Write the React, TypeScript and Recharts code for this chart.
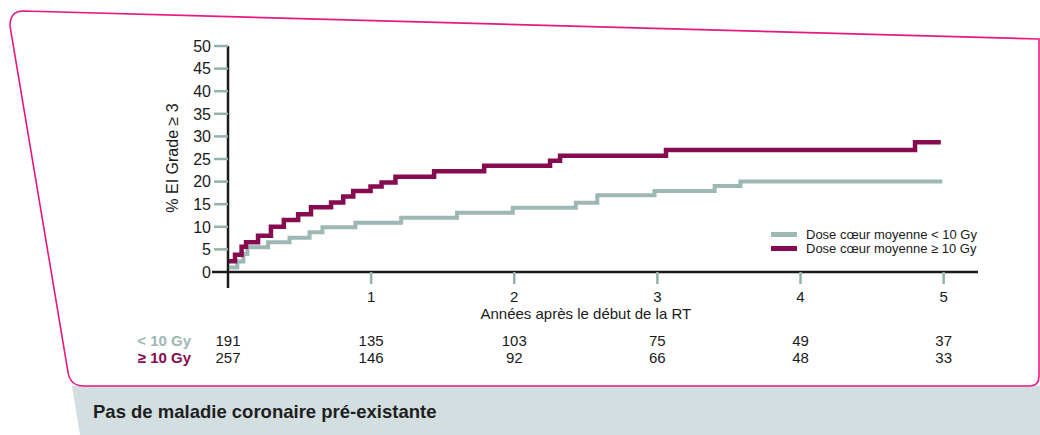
import React from "react";
import { LineChart, Line, XAxis, YAxis, Label } from "recharts";

// Kaplan-Meier style cumulative incidence
const lowTimes = [0.01, 0.065, 0.107, 0.135, 0.28, 0.43, 0.57, 0.66, 0.89, 1.21, 1.6, 1.99, 2.43, 2.58, 2.98, 3.4, 3.58, 4.99];
const lowValues = [1.0, 2.3, 4.0, 5.5, 6.6, 7.6, 8.8, 9.9, 10.9, 12.0, 13.1, 14.2, 15.3, 17.0, 17.9, 19.0, 20.0, 20.0];

const highTimes = [0, 0.049, 0.095, 0.126, 0.21, 0.3, 0.39, 0.49, 0.58, 0.72, 0.805, 0.875, 0.996, 1.073, 1.17, 1.44, 1.79, 2.25, 2.32, 3.06, 4.8, 4.98];
const highValues = [2.4, 3.8, 5.6, 6.6, 8.0, 10.0, 11.5, 12.8, 14.3, 15.4, 16.7, 17.9, 18.9, 19.8, 21.1, 22.3, 23.5, 24.6, 25.7, 27.0, 28.7, 28.7];

const xTicks = [0, 1, 2, 3, 4, 5];
const yTicks = [0, 5, 10, 15, 20, 25, 30, 35, 40, 45, 50];

// patients at risk
const riskLow = [191, 135, 103, 75, 49, 37];
const riskHigh = [257, 146, 92, 66, 48, 33];
const riskLabels = ["< 10 Gy", "≥ 10 Gy"];

const seriesNames = ["Dose cœur moyenne < 10 Gy", "Dose cœur moyenne ≥ 10 Gy"];
const xTitle = "Années après le début de la RT";
const yTitle = "% EI Grade ≥ 3";
const panelTitle = "Pas de maladie coronaire pré-existante";

const TEAL = "#9db8b4";
const TICK = "#93b1ad";
const RED = "#870b4f";
const PINK = "#e8187f";
const FONT = "'Liberation Sans', Arial, Helvetica, sans-serif";

const lowData = lowTimes.map((t, i) => ({ t, v: lowValues[i] }));
const highData = highTimes.map((t, i) => ({ t, v: highValues[i] }));
const seriesColors = [TEAL, RED];

function YTick(props: any) {
  const { x, y, payload } = props;
  const zero = payload.value === 0;
  return (
    <g>
      <line
        x1={x - (zero ? 16 : 14)}
        x2={x}
        y1={y}
        y2={y}
        stroke={zero ? "#1a1a1a" : TICK}
        strokeWidth={2.5}
      />
      <text x={x - 17} y={y} dy="0.36em" textAnchor="end" fontSize={16} fill="#1a1a1a" fontFamily={FONT}>
        {payload.value}
      </text>
    </g>
  );
}

function XTick(props: any) {
  const { x, y, payload, index } = props;
  const zero = payload.value === 0;
  return (
    <g fontFamily={FONT} fontSize={15} fill="#1a1a1a">
      <line
        x1={x}
        x2={x}
        y1={y}
        y2={y + (zero ? 16 : 12)}
        stroke={zero ? "#1a1a1a" : TICK}
        strokeWidth={2.5}
      />
      {!zero && (
        <text x={x} y={y + 29.5} textAnchor="middle">
          {payload.value}
        </text>
      )}
      <text x={x} y={y + 73.5} textAnchor="middle">
        {riskLow[index]}
      </text>
      <text x={x} y={y + 90.5} textAnchor="middle">
        {riskHigh[index]}
      </text>
      {zero && (
        <>
          <text x={x - 37} y={y + 73.5} textAnchor="end" fontWeight="bold" fill={TEAL}>
            {riskLabels[0]}
          </text>
          <text x={x - 37} y={y + 90.5} textAnchor="end" fontWeight="bold" fill={RED}>
            {riskLabels[1]}
          </text>
        </>
      )}
    </g>
  );
}

export default function App() {
  return (
    <div style={{ position: "absolute", left: 0, top: 0, width: 1040, height: 435, background: "#fff", overflow: "hidden" }}>
      <svg width={1040} height={435} style={{ position: "absolute", left: 0, top: 0 }}>
        <path d="M72 386 L1040 386 L1040 435 L80 435 Z" fill="#d2dedf" />
        <path
          d="M1039 39 L23 11 Q10 11 10 26 L68 372 Q70 386 84 386 L1030 386 Q1039 386 1039 376 Z"
          fill="none"
          stroke={PINK}
          strokeWidth={1.6}
        />
        <text x={93} y={418} fontFamily={FONT} fontSize={18.5} fontWeight="bold" fill="#1f1f1f">
          {panelTitle}
        </text>
      </svg>
      <div style={{ position: "absolute", left: 0, top: 0 }}>
        <LineChart width={1040} height={435} margin={{ top: 46, right: 62, left: 0, bottom: 63 }}>
          <XAxis
            type="number"
            dataKey="t"
            domain={[0, 5.24]}
            ticks={xTicks}
            allowDataOverflow
            height={100}
            tickSize={0}
            tickMargin={0}
            tickLine={false}
            axisLine={{ stroke: "#1a1a1a", strokeWidth: 2.5 }}
            tick={<XTick />}
            interval={0}
          >
            <Label
              content={(p: any) => {
                const vb = p.viewBox;
                return (
                  <text
                    x={vb.x + vb.width * (2.5 / 5.24)}
                    y={vb.y + 47}
                    textAnchor="middle"
                    fontSize={15}
                    fontFamily={FONT}
                    fill="#1a1a1a"
                  >
                    {xTitle}
                  </text>
                );
              }}
            />
          </XAxis>
          <YAxis
            type="number"
            domain={[0, 50]}
            ticks={yTicks}
            width={228}
            tickSize={0}
            tickMargin={0}
            tickLine={false}
            axisLine={{ stroke: "#1a1a1a", strokeWidth: 2.5 }}
            tick={<YTick />}
            interval={0}
          >
            <Label
              content={(p: any) => {
                const vb = p.viewBox;
                const cx = vb.x + vb.width - 56;
                const cy = vb.y + vb.height / 2 - 1;
                return (
                  <text
                    x={cx}
                    y={cy}
                    transform={`rotate(-90 ${cx} ${cy})`}
                    textAnchor="middle"
                    dy="0.36em"
                    fontSize={16}
                    fontFamily={FONT}
                    fill="#1a1a1a"
                  >
                    {yTitle}
                  </text>
                );
              }}
            />
          </YAxis>
          <Line
            data={lowData}
            dataKey="v"
            name={seriesNames[0]}
            type="stepAfter"
            stroke={TEAL}
            strokeWidth={4}
            dot={false}
            activeDot={false}
            isAnimationActive={false}
          />
          <Line
            data={highData}
            dataKey="v"
            name={seriesNames[1]}
            type="stepAfter"
            stroke={RED}
            strokeWidth={4.5}
            dot={false}
            activeDot={false}
            isAnimationActive={false}
          />
        </LineChart>
      </div>
      <div
        style={{
          position: "absolute",
          left: 771,
          top: 227,
          fontFamily: FONT,
          fontSize: 13,
          color: "#1a1a1a",
        }}
      >
        {seriesNames.map((name, i) => (
          <div key={name} style={{ display: "flex", alignItems: "center", height: 14 }}>
            <span
              style={{
                display: "inline-block",
                width: 26,
                height: 5,
                background: seriesColors[i],
                marginRight: 9,
              }}
            />
            <span>{name}</span>
          </div>
        ))}
      </div>
    </div>
  );
}
